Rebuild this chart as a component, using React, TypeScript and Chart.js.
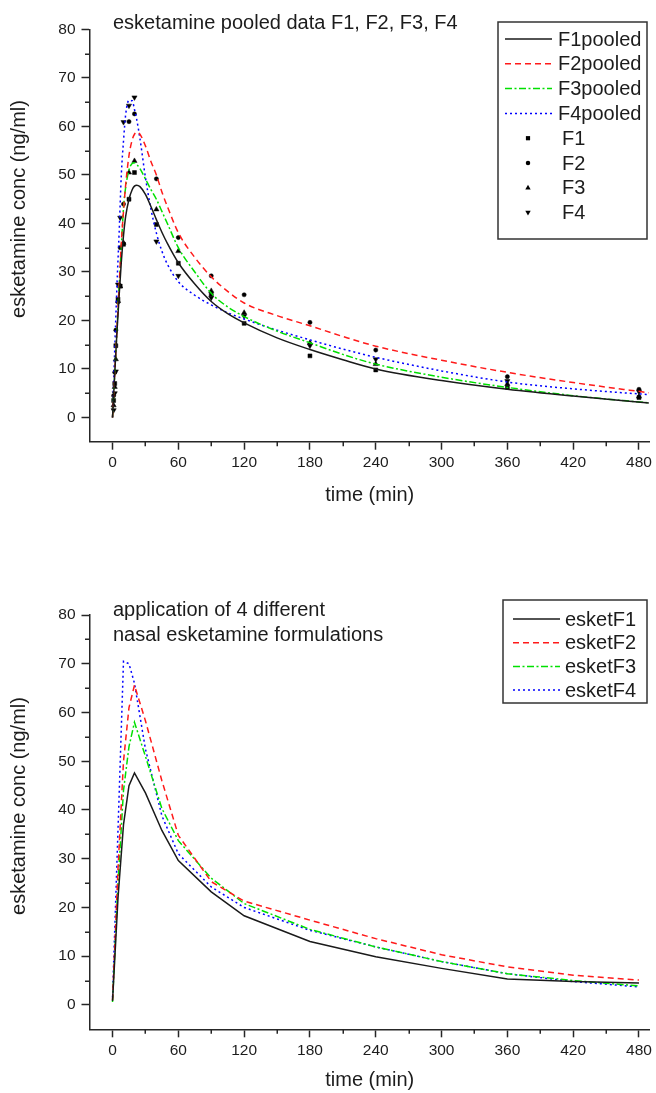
import React, { useEffect, useRef } from 'react';
import { Chart, registerables } from 'chart.js';

Chart.register(...registerables);

// ---------------- shared axis ticks ----------------
const xMajorTicks = [0, 60, 120, 180, 240, 300, 360, 420, 480];
const xMinorTicks = [30, 90, 150, 210, 270, 330, 390, 450];
const yMajorTicks = [0, 10, 20, 30, 40, 50, 60, 70, 80];
const yMinorTicks = [5, 15, 25, 35, 45, 55, 65, 75];

// ---------------- top panel: pooled fits ----------------
const fitTimes = [0, 2, 4, 6, 8, 10, 12, 15, 18, 20, 22, 25, 30, 35, 40, 45, 50, 60, 75, 90, 105, 120, 150, 180, 210, 240, 300, 360, 420, 489];
const f1Pooled = [0, 9, 17.5, 25, 32, 37.5, 41.5, 45, 47, 47.7, 47.9, 47.6, 46, 43.5, 40.8, 38.2, 35.9, 31.9, 27.5, 23.9, 21.4, 19.5, 16.4, 14.0, 11.9, 10.0, 7.6, 5.8, 4.4, 3.0];
const f2Pooled = [0, 9, 18, 27, 36, 42.5, 48, 54, 57.3, 58.4, 58.8, 58.4, 56, 52.8, 50, 46.5, 43.5, 38.1, 33, 29, 26, 23.6, 21, 18.9, 16.7, 14.7, 11.8, 9.3, 7.2, 5.1];
const f3Pooled = [0, 9, 18, 27, 35, 43.2, 47.5, 51, 52.4, 52.5, 52.2, 51.3, 49.2, 47, 45, 42.5, 40, 35, 30, 25.6, 22.8, 20.8, 17.8, 15.4, 13, 11, 8.3, 6.2, 4.5, 3.0];
const f4Pooled = [0, 14, 27, 38, 50, 57, 62.5, 65.4, 65.3, 63.5, 61.5, 57.5, 49.5, 43, 38, 34.3, 31.6, 28, 25.2, 23.2, 21.6, 20.3, 18, 16, 14.1, 12.4, 9.6, 7.3, 5.9, 4.7];

// measured samples
const sampleTimes = [1, 2, 3, 5, 7, 10, 15, 20, 40, 60, 90, 120, 180, 240, 360, 480];
const f1Samples = [3.5, 7, 14.8, 24.4, 27.1, 35.7, 45, 50.5, 39.8, 31.8, 25.4, 19.4, 12.7, 9.8, 6.2, 4.1];
const f2Samples = [4.5, 9.3, 18, 23.8, 35, 44, 61, 62.6, 49.2, 37.1, 29.2, 25.3, 19.6, 13.9, 8.4, 5.8];
const f3Samples = [2.5, 6.3, 12, 24, 27, 36, 50.5, 52.9, 42.9, 34.3, 26.1, 21.6, 15.4, 11, 6.9, 4.3];
const f4Samples = [1.5, 5, 9.5, 27.4, 41.2, 60.9, 64.3, 66, 36.3, 29.2, 24.7, 20.9, 14.8, 12, 7.5, 5.3];

// ---------------- bottom panel: simulated formulations ----------------
const simTimes = [0, 5, 10, 15, 20, 30, 45, 60, 90, 120, 180, 240, 300, 360, 420, 480];
const esketF1 = [0.8, 22, 37, 45, 47.6, 43.5, 35.8, 29.6, 23.2, 18.3, 13, 9.9, 7.5, 5.3, 4.8, 4.5];
const esketF2 = [1, 28, 50, 61, 65.6, 58.3, 46, 34.8, 25.3, 21.3, 17.4, 13.6, 10.3, 7.8, 6.1, 5.1];
const esketF3 = [0.6, 25, 44, 53, 58, 51, 40.3, 33.7, 26, 20.8, 15.5, 11.9, 8.9, 6.4, 5.0, 3.9];
const esketF4 = [1.5, 36, 70.5, 70, 66, 52.5, 38.8, 31, 24.2, 20, 15.3, 11.9, 8.9, 6.4, 4.8, 3.7];

const topNote = ['esketamine pooled data F1, F2, F3, F4'];
const bottomNote = ['application of 4 different', 'nasal esketamine formulations'];
const yTitle = 'esketamine conc (ng/ml)';
const xTitle = 'time (min)';

// ---------------- styling ----------------
const FONT = "'Liberation Sans', Arial, Helvetica, sans-serif";
const TEXT = '#1c1c1c';
const AXIS = '#262626';
const BLACK = '#1a1a1a';
const RED = '#ff1a1a';
const GREEN = '#00e000';
const BLUE = '#0000ff';

const pts = (xs: number[], ys: number[]) => xs.map((x, i) => ({ x, y: ys[i] }));

function drawMarker(ctx: CanvasRenderingContext2D, style: string, rot: number, x: number, y: number, r: number) {
  ctx.beginPath();
  if (style === 'rect') {
    ctx.rect(x - r * 0.7, y - r * 0.7, r * 1.4, r * 1.4);
  } else if (style === 'circle') {
    ctx.arc(x, y, r * 0.75, 0, Math.PI * 2);
  } else {
    const d = rot ? -1 : 1;
    ctx.moveTo(x, y - d * r);
    ctx.lineTo(x + r * 0.9, y + d * r * 0.6);
    ctx.lineTo(x - r * 0.9, y + d * r * 0.6);
    ctx.closePath();
  }
  ctx.fill();
}

const boxLegend = {
  id: 'boxLegend',
  afterDraw(chart: any, _args: any, o: any) {
    const ctx: CanvasRenderingContext2D = chart.ctx;
    ctx.save();
    ctx.fillStyle = '#ffffff';
    ctx.fillRect(o.left, o.top, o.right - o.left, o.bottom - o.top);
    ctx.strokeStyle = '#333333';
    ctx.lineWidth = 1.5;
    ctx.setLineDash([]);
    ctx.strokeRect(o.left, o.top, o.right - o.left, o.bottom - o.top);
    ctx.font = `20px ${FONT}`;
    ctx.textBaseline = 'middle';
    ctx.textAlign = 'left';
    chart.data.datasets.forEach((ds: any, i: number) => {
      const y = o.rowY + i * o.rowStep;
      if (ds.showLine === false) {
        ctx.fillStyle = '#000';
        drawMarker(ctx, ds.pointStyle, ds.rotation || 0, o.markerX, y, 3);
        ctx.fillStyle = TEXT;
        ctx.fillText(ds.label, o.markerTextX, y + 1);
      } else {
        ctx.strokeStyle = ds.borderColor;
        ctx.lineWidth = ds.borderWidth;
        ctx.setLineDash(ds.borderDash || []);
        ctx.beginPath();
        ctx.moveTo(o.lineX0, y);
        ctx.lineTo(o.lineX1, y);
        ctx.stroke();
        ctx.setLineDash([]);
        ctx.fillStyle = TEXT;
        ctx.fillText(ds.label, o.textX, y + 1);
      }
    });
    ctx.restore();
  },
};

const noteText = {
  id: 'noteText',
  afterDraw(chart: any, _args: any, o: any) {
    const ctx: CanvasRenderingContext2D = chart.ctx;
    ctx.save();
    ctx.font = `20px ${FONT}`;
    ctx.fillStyle = TEXT;
    ctx.textBaseline = 'alphabetic';
    ctx.textAlign = 'left';
    (o.lines as string[]).forEach((l, i) => ctx.fillText(l, o.x, o.y + i * o.step));
    // rotated y-axis title
    ctx.translate(o.yTitleX, o.yTitleY);
    ctx.rotate(-Math.PI / 2);
    ctx.textAlign = 'center';
    ctx.textBaseline = 'middle';
    ctx.fillText(yTitle, 0, 0);
    ctx.restore();
  },
};

const minorTicks = {
  id: 'minorTicks',
  afterDraw(chart: any, _args: any, o: any) {
    const ctx: CanvasRenderingContext2D = chart.ctx;
    const x = chart.scales.x;
    const y = chart.scales.y;
    ctx.save();
    ctx.strokeStyle = AXIS;
    ctx.lineWidth = 1.5;
    ctx.beginPath();
    (o.x as number[]).forEach((v) => {
      const px = Math.round(x.getPixelForValue(v)) + 0.25;
      ctx.moveTo(px, x.top);
      ctx.lineTo(px, x.top + o.len);
    });
    (o.y as number[]).forEach((v) => {
      const py = Math.round(y.getPixelForValue(v)) + 0.25;
      ctx.moveTo(y.right, py);
      ctx.lineTo(y.right - o.len, py);
    });
    ctx.stroke();
    ctx.restore();
  },
};

function lineDs(label: string, xs: number[], ys: number[], color: string, dash: number[], smooth: boolean) {
  return {
    label,
    data: pts(xs, ys),
    showLine: true,
    borderColor: color,
    borderWidth: 1.5,
    borderDash: dash,
    pointRadius: 0,
    pointHoverRadius: 0,
    fill: false,
    tension: smooth ? 0.4 : 0,
    cubicInterpolationMode: smooth ? 'monotone' : 'default',
  };
}

function markDs(label: string, xs: number[], ys: number[], style: string, rotation: number, radius: number) {
  return {
    label,
    data: pts(xs, ys),
    showLine: false,
    pointStyle: style,
    rotation,
    pointRadius: radius,
    pointBackgroundColor: '#000',
    pointBorderColor: '#000',
    pointBorderWidth: 0.5,
    borderColor: '#000',
    backgroundColor: '#000',
  };
}

function buildOptions(p: any) {
  return {
    responsive: false,
    animation: false,
    devicePixelRatio: 1,
    events: [],
    layout: { padding: { left: 0, right: 5, top: p.top, bottom: 0 } },
    plugins: {
      legend: { display: false },
      tooltip: { enabled: false },
      boxLegend: p.legend,
      noteText: p.note,
      minorTicks: { x: xMinorTicks, y: yMinorTicks, len: 4.5 },
    },
    scales: {
      x: {
        type: 'linear',
        min: -21,
        max: 490,
        afterBuildTicks: (s: any) => { s.ticks = xMajorTicks.map((v) => ({ value: v })); },
        afterFit: (s: any) => { s.height = p.xHeight; },
        grid: { drawOnChartArea: false, drawTicks: true, tickLength: 8, tickColor: AXIS, tickWidth: 1.5 },
        border: { display: true, color: AXIS, width: 1.5 },
        ticks: { color: TEXT, font: { family: FONT, size: 15.5 }, padding: 4, maxRotation: 0, autoSkip: false, callback: (v: any) => String(v) },
        title: { display: true, text: xTitle, color: TEXT, font: { family: FONT, size: 20 }, padding: { top: 0, bottom: p.xTitlePad } },
      },
      y: {
        type: 'linear',
        min: -5,
        max: 80,
        afterBuildTicks: (s: any) => { s.ticks = yMajorTicks.map((v) => ({ value: v })); },
        afterFit: (s: any) => { s.width = 89.5; },
        grid: { drawOnChartArea: false, drawTicks: true, tickLength: 8, tickColor: AXIS, tickWidth: 1.5 },
        border: { display: true, color: AXIS, width: 1.5 },
        ticks: { color: TEXT, font: { family: FONT, size: 15.5 }, padding: 6, autoSkip: false, callback: (v: any) => String(v) },
        title: { display: false },
      },
    },
  };
}

function TopChart() {
  const ref = useRef<HTMLCanvasElement>(null);
  useEffect(() => {
    const chart = new Chart(ref.current as HTMLCanvasElement, {
      type: 'scatter',
      data: {
        datasets: [
          lineDs('F1pooled', fitTimes, f1Pooled, BLACK, [], true),
          lineDs('F2pooled', fitTimes, f2Pooled, RED, [6, 4], true),
          lineDs('F3pooled', fitTimes, f3Pooled, GREEN, [7, 2.5, 2, 2.5], true),
          lineDs('F4pooled', fitTimes, f4Pooled, BLUE, [2, 3], true),
          markDs('F1', sampleTimes, f1Samples, 'rect', 0, 2.8),
          markDs('F2', sampleTimes, f2Samples, 'circle', 0, 2.1),
          markDs('F3', sampleTimes, f3Samples, 'triangle', 0, 3),
          markDs('F4', sampleTimes, f4Samples, 'triangle', 180, 3),
        ] as any,
      },
      options: buildOptions({
        top: 29.5,
        xHeight: 545 - 441.7,
        xTitlePad: 38,
        legend: { left: 498, top: 22, right: 647, bottom: 239, rowY: 39, rowStep: 24.8, lineX0: 505, lineX1: 552, textX: 558, markerX: 528, markerTextX: 562 },
        note: { lines: topNote, x: 113, y: 29, step: 25, yTitleX: 19, yTitleY: 209 },
      }) as any,
      plugins: [boxLegend, noteText, minorTicks],
    });
    return () => chart.destroy();
  }, []);
  return <canvas ref={ref} width={656} height={545} style={{ display: 'block', width: 656, height: 545 }} />;
}

function BottomChart() {
  const ref = useRef<HTMLCanvasElement>(null);
  useEffect(() => {
    const chart = new Chart(ref.current as HTMLCanvasElement, {
      type: 'scatter',
      data: {
        datasets: [
          lineDs('esketF1', simTimes, esketF1, BLACK, [], false),
          lineDs('esketF2', simTimes, esketF2, RED, [6, 4], false),
          lineDs('esketF3', simTimes, esketF3, GREEN, [7, 2.5, 2, 2.5], false),
          lineDs('esketF4', simTimes, esketF4, BLUE, [2, 3], false),
        ] as any,
      },
      options: buildOptions({
        top: 70,
        xHeight: 548 - 484.3,
        xTitlePad: 1,
        legend: { left: 503, top: 55, right: 647, bottom: 158, rowY: 74, rowStep: 23.7, lineX0: 513, lineX1: 560, textX: 565, markerX: 536, markerTextX: 565 },
        note: { lines: bottomNote, x: 113, y: 71, step: 25, yTitleX: 19, yTitleY: 261 },
      }) as any,
      plugins: [boxLegend, noteText, minorTicks],
    });
    return () => chart.destroy();
  }, []);
  return <canvas ref={ref} width={656} height={548} style={{ display: 'block', width: 656, height: 548 }} />;
}

export default function App() {
  return (
    <div style={{ position: 'absolute', left: 0, top: 0, width: 656, height: 1093, background: '#ffffff' }}>
      <TopChart />
      <BottomChart />
    </div>
  );
}
